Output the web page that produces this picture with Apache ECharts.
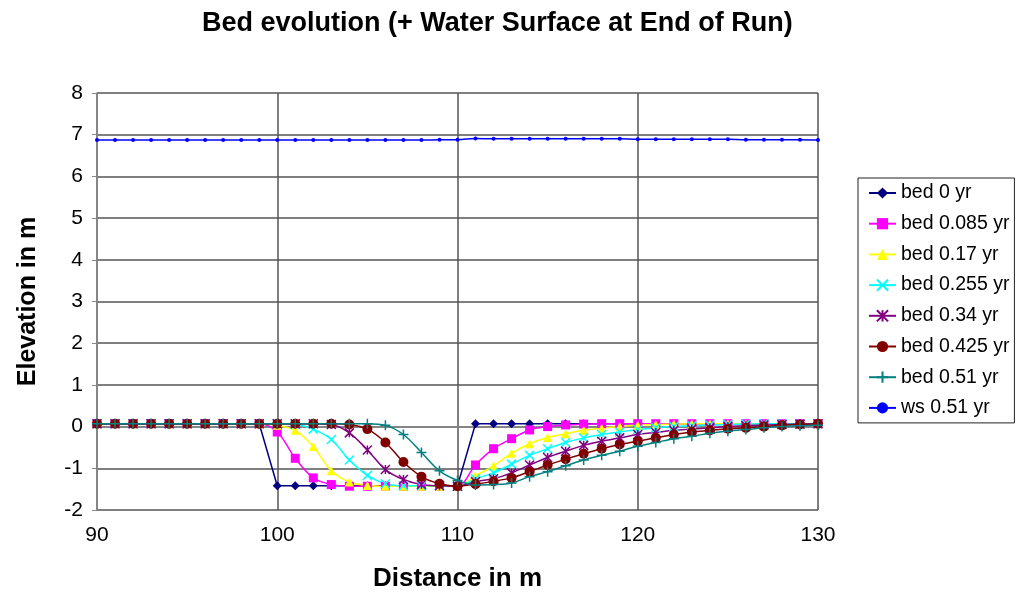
<!DOCTYPE html>
<html>
<head>
<meta charset="utf-8">
<script src="https://cdn.jsdelivr.net/npm/echarts@6/dist/echarts.min.js"></script>
<style>
html,body{margin:0;padding:0;background:#fff;}
#chart{width:1017px;height:592px;}
</style>
</head>
<body>
<div id="chart"></div>
<script>
// Distance in m
const distance = [90,91,92,93,94,95,96,97,98,99,100,101,102,103,104,105,106,107,108,109,110,111,112,113,114,115,116,117,118,119,120,121,122,123,124,125,126,127,128,129,130];

const bed0 = [0.07,0.07,0.07,0.07,0.07,0.07,0.07,0.07,0.07,0.07,-1.42,-1.42,-1.42,-1.42,-1.42,-1.42,-1.42,-1.42,-1.42,-1.42,-1.42,0.07,0.07,0.07,0.07,0.07,0.07,0.07,0.07,0.07,0.07,0.07,0.07,0.07,0.07,0.07,0.07,0.07,0.07,0.07,0.07];
const bed0085 = [0.07,0.07,0.07,0.07,0.07,0.07,0.07,0.07,0.07,0.07,-0.13,-0.76,-1.23,-1.39,-1.43,-1.43,-1.43,-1.43,-1.43,-1.43,-1.43,-0.92,-0.53,-0.29,-0.08,0.0,0.04,0.06,0.07,0.07,0.07,0.07,0.07,0.07,0.07,0.07,0.07,0.07,0.07,0.07,0.07];
const bed017 = [0.07,0.07,0.07,0.07,0.07,0.07,0.07,0.07,0.07,0.07,0.03,-0.09,-0.48,-1.06,-1.33,-1.41,-1.43,-1.43,-1.43,-1.43,-1.43,-1.18,-0.94,-0.64,-0.41,-0.26,-0.17,-0.09,-0.04,0.0,0.03,0.05,0.06,0.07,0.07,0.07,0.07,0.07,0.07,0.07,0.07];
const bed0255 = [0.07,0.07,0.07,0.07,0.07,0.07,0.07,0.07,0.07,0.07,0.07,0.05,-0.06,-0.31,-0.80,-1.17,-1.37,-1.42,-1.42,-1.42,-1.43,-1.25,-1.11,-0.90,-0.69,-0.53,-0.38,-0.27,-0.19,-0.13,-0.07,-0.03,0.0,0.02,0.04,0.05,0.06,0.07,0.07,0.07,0.07];
const bed034 = [0.07,0.07,0.07,0.07,0.07,0.07,0.07,0.07,0.07,0.07,0.07,0.07,0.07,0.05,-0.15,-0.56,-1.03,-1.27,-1.39,-1.42,-1.43,-1.32,-1.25,-1.11,-0.92,-0.74,-0.59,-0.45,-0.35,-0.27,-0.19,-0.14,-0.09,-0.06,-0.03,0.0,0.02,0.04,0.05,0.06,0.07];
const bed0425 = [0.07,0.07,0.07,0.07,0.07,0.07,0.07,0.07,0.07,0.07,0.07,0.07,0.07,0.07,0.05,-0.06,-0.38,-0.85,-1.20,-1.37,-1.43,-1.38,-1.31,-1.23,-1.08,-0.92,-0.78,-0.65,-0.53,-0.43,-0.35,-0.27,-0.19,-0.13,-0.09,-0.05,-0.03,0.0,0.03,0.05,0.07];
const bed051 = [0.07,0.07,0.07,0.07,0.07,0.07,0.07,0.07,0.07,0.07,0.07,0.07,0.07,0.07,0.07,0.07,0.03,-0.19,-0.62,-1.06,-1.29,-1.40,-1.39,-1.35,-1.20,-1.08,-0.94,-0.80,-0.69,-0.59,-0.47,-0.38,-0.29,-0.23,-0.16,-0.11,-0.07,-0.03,0.0,0.02,0.03];
const ws051 = [6.87,6.87,6.87,6.87,6.87,6.87,6.87,6.87,6.87,6.87,6.87,6.87,6.87,6.87,6.87,6.87,6.87,6.87,6.87,6.88,6.88,6.91,6.90,6.90,6.90,6.90,6.90,6.90,6.90,6.90,6.89,6.89,6.89,6.89,6.89,6.89,6.88,6.88,6.88,6.88,6.87];

const seriesNames = ['bed 0 yr','bed 0.085 yr','bed 0.17 yr','bed 0.255 yr','bed 0.34 yr','bed 0.425 yr','bed 0.51 yr','ws 0.51 yr'];
const seriesValues = [bed0,bed0085,bed017,bed0255,bed034,bed0425,bed051,ws051];
const xTicks = [90,100,110,120,130];
const yTicks = [-2,-1,0,1,2,3,4,5,6,7,8];

const colors = ['#000080','#FF00FF','#FFFF00','#00FFFF','#800080','#800000','#008080','#0000FF'];
const symbols = ['diamond','rect','triangle',
  'path://M0,0L10,10M10,0L0,10',
  'path://M0,0L10,10M10,0L0,10M5,0L5,10',
  'circle',
  'path://M5,0L5,10M0,5L10,5',
  'circle'];
const sizes = [9,9,9,9,9,10,10,4];
const stroked = [false,false,false,true,true,false,true,false];

const FONT = 'Liberation Sans, Arial, sans-serif';
const chart = echarts.init(document.getElementById('chart'));
const series = seriesNames.map((name,i)=>({
  name: name,
  type: 'line',
  data: distance.map((d,j)=>[d, seriesValues[i][j]]),
  smooth: i===0 ? false : 0.35,
  symbol: symbols[i],
  symbolSize: sizes[i],
  showAllSymbol: true,
  lineStyle: {color: colors[i], width: 1.5},
  itemStyle: stroked[i]
    ? {color: colors[i], borderColor: colors[i], borderWidth: 1.5}
    : {color: colors[i], borderWidth: 0},
  emphasis: {disabled: true},
  animation: false,
  z: i===7 ? 3 : 2
}));

chart.setOption({
  backgroundColor: '#ffffff',
  animation: false,
  title: {
    text: 'Bed evolution (+ Water Surface at End of Run)',
    left: 197,
    top: 5,
    textStyle: {fontFamily: FONT, fontWeight: 'bold', fontSize: 27, color: '#000'}
  },
  legend: {
    orient: 'vertical',
    left: 858,
    top: 178,
    padding: [5, 5, 5, 10],
    itemWidth: 27,
    itemHeight: 14,
    itemGap: 10.7,
    borderColor: '#222',
    borderWidth: 1,
    textStyle: {fontFamily: FONT, fontSize: 19.5, lineHeight: 20, color: '#000'},
    data: seriesNames
  },
  grid: {left: 97, top: 93, width: 721, height: 417, show: false, outerBoundsMode: 'none', containLabel: false},
  xAxis: {
    type: 'value',
    min: 90, max: 130, interval: 10,
    name: 'Distance in m',
    nameLocation: 'middle',
    nameGap: 56,
    nameTextStyle: {fontFamily: FONT, fontWeight: 'bold', fontSize: 26, color: '#000'},
    axisLine: {show: true, lineStyle: {color: '#888', width: 1.5}},
    axisTick: {show: true, length: 5, lineStyle: {color: '#888'}},
    axisLabel: {fontFamily: FONT, fontSize: 21, color: '#000', margin: 15,
      formatter: v => xTicks.includes(v) ? String(v) : ''},
    splitLine: {show: true, lineStyle: {color: '#555', width: 1.5}}
  },
  yAxis: {
    type: 'value',
    min: -2, max: 8, interval: 1,
    name: 'Elevation in m',
    nameLocation: 'middle',
    nameGap: 56,
    nameTextStyle: {fontFamily: FONT, fontWeight: 'bold', fontSize: 25, color: '#000'},
    axisLine: {show: true, lineStyle: {color: '#888', width: 1.5}},
    axisTick: {show: true, length: 5, lineStyle: {color: '#888'}},
    axisLabel: {fontFamily: FONT, fontSize: 21, color: '#000', margin: 14,
      formatter: v => yTicks.includes(v) ? String(v) : ''},
    splitLine: {show: true, lineStyle: {color: '#555', width: 1.5}}
  },
  series: series
});
</script>
</body>
</html>
